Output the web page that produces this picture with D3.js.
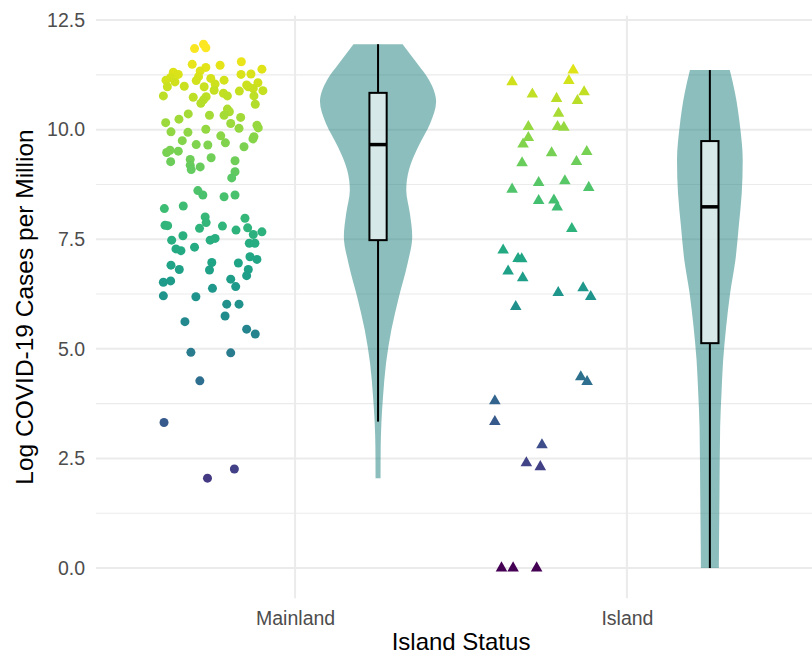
<!DOCTYPE html>
<html>
<head>
<meta charset="utf-8">
<script src="https://cdn.jsdelivr.net/npm/d3@7"></script>
<style>
  html, body { margin: 0; padding: 0; background: #ffffff; }
  svg { display: block; font-family: "Liberation Sans", Arial, Helvetica, sans-serif; }
</style>
</head>
<body>
<svg id="chart" width="812" height="656"></svg>
<script>
// ---------------- data ----------------
const categories = ["Mainland", "Island"];
const yTickValues = [0, 2.5, 5, 7.5, 10, 12.5];
const yMinorValues = [1.25, 3.75, 6.25, 8.75, 11.25];
const xTitle = "Island Status";
const yTitle = "Log COVID-19 Cases per Million";

// jittered x positions (category units) and values, Mainland
const mainlandX = [0.697,0.724,0.731,0.690,0.774,0.838,0.900,0.731,0.714,0.633,0.648,0.625,0.837,0.867,0.709,0.702,0.746,0.786,0.611,0.615,
  0.638,0.666,0.726,0.759,0.756,0.854,0.888,0.859,0.832,0.903,0.874,0.784,0.796,0.603,0.693,0.732,0.724,0.716,0.876,0.880,
  0.796,0.802,0.786,0.678,0.742,0.650,0.836,0.806,0.831,0.610,0.626,0.677,0.731,0.885,0.889,0.776,0.790,0.660,0.702,0.737,
  0.876,0.873,0.846,0.613,0.623,0.648,0.625,0.684,0.747,0.684,0.687,0.714,0.819,0.819,0.809,
  0.707,0.722,0.786,0.819,0.606,0.663,0.729,0.732,0.712,0.608,0.616,0.662,0.781,0.822,0.849,0.857,0.874,0.900,0.628,0.641,
  0.656,0.697,0.744,0.759,0.862,0.879,0.864,0.885,0.829,0.749,0.742,0.626,0.651,0.859,0.854,0.603,0.625,0.806,0.821,0.751,
  0.603,0.701,0.794,0.831,0.789,0.668,0.854,0.880,
  0.686,0.806,0.713,0.605,0.736,0.817];
const mainlandY = [11.85,11.95,11.87,11.49,11.47,11.55,11.38,11.42,11.34,11.31,11.26,11.19,11.26,11.27,11.21,11.12,11.17,11.13,11.13,10.98,
  11.09,10.99,10.98,11.04,10.90,11.02,11.07,10.98,10.88,10.89,10.94,10.83,10.77,10.77,10.74,10.75,10.68,10.60,10.77,10.58,
  10.47,10.41,10.33,10.36,10.33,10.24,10.28,10.14,10.03,10.16,9.95,9.94,10.01,10.10,10.04,9.86,9.70,9.75,9.66,9.65,
  9.84,9.79,9.61,9.48,9.53,9.51,9.27,9.32,9.36,9.19,9.09,9.15,9.29,9.04,8.90,
  8.61,8.51,8.47,8.51,8.20,8.26,8.01,7.88,7.75,7.82,7.81,7.58,7.80,7.71,7.98,7.76,7.61,7.67,7.48,7.28,
  7.24,7.32,7.48,7.52,7.41,7.41,7.10,7.04,6.96,6.97,6.80,6.91,6.81,6.81,6.67,6.52,6.55,6.59,6.42,6.38,
  6.21,6.19,6.02,6.02,5.75,5.62,5.45,5.34,
  4.92,4.91,4.27,3.32,2.05,2.26];

// jittered x positions (category units) and values, Island
const islandX = [1.838,1.654,1.825,1.871,1.715,1.788,1.851,1.794,1.703,1.791,1.810,1.703,1.687,1.773,1.879,1.684,1.848,1.734,1.813,1.654,
  1.885,1.734,1.780,1.790,1.834,1.627,1.672,1.683,1.642,1.686,1.793,1.868,1.891,1.665,1.861,1.880,1.602,1.602,1.744,1.697,
  1.739,1.622,1.657,1.728];
const islandY = [11.36,11.09,11.12,10.86,10.81,10.71,10.66,10.37,10.07,10.07,10.05,9.82,9.67,9.47,9.50,9.24,9.27,8.79,8.83,8.64,
  8.68,8.38,8.39,8.23,7.74,7.25,7.06,7.05,6.77,6.62,6.28,6.39,6.19,5.96,4.36,4.25,3.81,3.34,2.81,2.40,
  2.31,0,0,0];

// violin outlines: value levels and half-widths (category units)
const mainlandViolinY = [11.95,11.51,11.13,10.64,10.14,9.61,9.08,8.62,8.09,7.56,6.95,6.19,5.43,4.67,3.91,3.30,2.77,2.05];
const mainlandViolinW = [0.074,0.118,0.154,0.175,0.157,0.121,0.093,0.085,0.096,0.103,0.089,0.063,0.040,0.024,0.015,0.010,0.008,0.0075];
const islandViolinY = [11.36,10.83,10.07,9.31,8.55,7.79,7.03,6.27,5.50,4.74,3.98,3.22,1.70,0];
const islandViolinW = [0.060,0.076,0.091,0.099,0.096,0.087,0.077,0.061,0.049,0.040,0.035,0.031,0.029,0.027];

// boxplot statistics [lower whisker, Q1, median, Q3, upper whisker]
const mainlandBox = [3.34, 7.48, 9.66, 10.84, 11.95];
const islandBox = [0, 5.13, 8.24, 9.74, 11.36];

const violinOffset = 0.25;   // dodge of violin/box to the right of category
const boxHalfWidth = 0.026;

// ---------------- drawing ----------------
const W = 812, H = 656;
const svg = d3.select("#chart");

const x = d3.scaleLinear().domain([0.4, 2.6]).range([96, 826]);
const y = d3.scaleLinear().domain([-0.69, 12.6]).range([598.3, 15.7]);
const color = d3.scaleSequential(d3.interpolateViridis).domain([0, 11.95]);

const panelLeft = x.range()[0], panelTop = y.range()[1], panelBottom = y.range()[0];

// grid
const grid = svg.append("g");
grid.selectAll("line.minor").data(yMinorValues).join("line")
  .attr("x1", panelLeft).attr("x2", W)
  .attr("y1", d => y(d)).attr("y2", d => y(d))
  .attr("stroke", "#ebebeb").attr("stroke-width", 1.1);
grid.selectAll("line.major").data(yTickValues).join("line")
  .attr("x1", panelLeft).attr("x2", W)
  .attr("y1", d => y(d)).attr("y2", d => y(d))
  .attr("stroke", "#ebebeb").attr("stroke-width", 2);
grid.selectAll("line.vmajor").data([1, 2]).join("line")
  .attr("x1", d => x(d)).attr("x2", d => x(d))
  .attr("y1", panelTop).attr("y2", panelBottom)
  .attr("stroke", "#ebebeb").attr("stroke-width", 2);

// violins
const violins = [
  { pos: 1, ys: mainlandViolinY, ws: mainlandViolinW },
  { pos: 2, ys: islandViolinY, ws: islandViolinW }
];
violins.forEach(v => {
  const pts = v.ys.map((val, i) => ({ v: val, w: v.ws[i] }));
  const cx = v.pos + violinOffset;
  const area = d3.area()
    .y(d => y(d.v))
    .x0(d => x(cx - d.w))
    .x1(d => x(cx + d.w))
    .curve(d3.curveMonotoneY);
  svg.append("path")
    .datum(pts)
    .attr("d", area)
    .attr("fill", "#177d79")
    .attr("fill-opacity", 0.5);
});

// boxplots
const boxes = [{ pos: 1, s: mainlandBox }, { pos: 2, s: islandBox }];
boxes.forEach(b => {
  const cx = b.pos + violinOffset;
  const g = svg.append("g");
  g.append("line")
    .attr("x1", x(cx)).attr("x2", x(cx))
    .attr("y1", y(b.s[4])).attr("y2", y(b.s[3]))
    .attr("stroke", "#000").attr("stroke-width", 2);
  g.append("line")
    .attr("x1", x(cx)).attr("x2", x(cx))
    .attr("y1", y(b.s[1])).attr("y2", y(b.s[0]))
    .attr("stroke", "#000").attr("stroke-width", 2);
  g.append("rect")
    .attr("x", x(cx - boxHalfWidth)).attr("width", x(cx + boxHalfWidth) - x(cx - boxHalfWidth))
    .attr("y", y(b.s[3])).attr("height", y(b.s[1]) - y(b.s[3]))
    .attr("fill", "#ffffff").attr("fill-opacity", 0.65)
    .attr("stroke", "#000").attr("stroke-width", 2);
  g.append("line")
    .attr("x1", x(cx - boxHalfWidth)).attr("x2", x(cx + boxHalfWidth))
    .attr("y1", y(b.s[2])).attr("y2", y(b.s[2]))
    .attr("stroke", "#000").attr("stroke-width", 3.5);
});

// points
const mainlandPts = mainlandX.map((xv, i) => ({ x: xv, v: mainlandY[i] }));
const islandPts = islandX.map((xv, i) => ({ x: xv, v: islandY[i] }));

svg.append("g").selectAll("circle").data(mainlandPts).join("circle")
  .attr("cx", d => x(d.x)).attr("cy", d => y(d.v)).attr("r", 4.5)
  .attr("fill", d => color(d.v));

const tri = d3.symbol().type(d3.symbolTriangle).size(58);
svg.append("g").selectAll("path").data(islandPts).join("path")
  .attr("transform", d => `translate(${x(d.x)},${y(d.v)})`)
  .attr("d", tri)
  .attr("fill", d => color(d.v));

// axes
const yAxis = d3.axisLeft(y).tickValues(yTickValues).tickFormat(d3.format(".1f"))
  .tickSize(0).tickPadding(11);
const gy = svg.append("g").attr("transform", `translate(${panelLeft},0)`).call(yAxis);
gy.select(".domain").remove();
gy.selectAll("text").attr("fill", "#4d4d4d").attr("font-size", "19.5px")
  .attr("font-family", "Liberation Sans, Arial, sans-serif");

const xAxis = d3.axisBottom(x).tickValues([1, 2]).tickFormat(d => categories[d - 1])
  .tickSize(0).tickPadding(12.9);
const gx = svg.append("g").attr("transform", `translate(0,${panelBottom})`).call(xAxis);
gx.select(".domain").remove();
gx.selectAll("text").attr("fill", "#4d4d4d").attr("font-size", "19.5px")
  .attr("font-family", "Liberation Sans, Arial, sans-serif");

// titles
svg.append("text")
  .attr("x", 461).attr("y", 650)
  .attr("text-anchor", "middle")
  .attr("font-size", "24px").attr("fill", "#000")
  .text(xTitle);
svg.append("text")
  .attr("transform", `translate(33,${(panelTop + panelBottom) / 2}) rotate(-90)`)
  .attr("text-anchor", "middle")
  .attr("font-size", "24.5px").attr("fill", "#000")
  .text(yTitle);
</script>
</body>
</html>
